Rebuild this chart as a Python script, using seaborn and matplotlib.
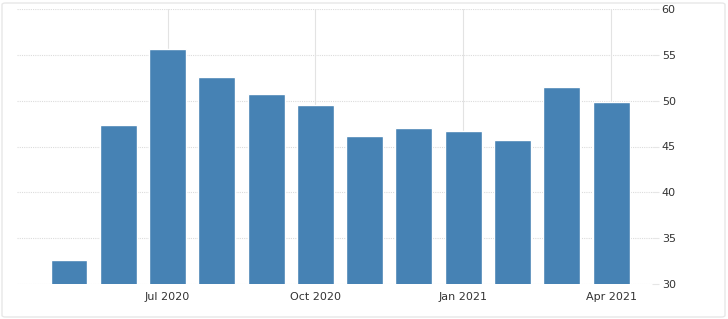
import matplotlib
matplotlib.use("Agg")
import matplotlib.pyplot as plt
import seaborn as sns
import pandas as pd
from matplotlib.patches import FancyBboxPatch

months = ["May 2020", "Jun 2020", "Jul 2020", "Aug 2020", "Sep 2020", "Oct 2020",
          "Nov 2020", "Dec 2020", "Jan 2021", "Feb 2021", "Mar 2021", "Apr 2021"]
values = [32.6, 47.3, 55.6, 52.6, 50.7, 49.5, 46.1, 47.0, 46.7, 45.7, 51.5, 49.9]
tick_months = ["Jul 2020", "Oct 2020", "Jan 2021", "Apr 2021"]
y_ticks = [30, 35, 40, 45, 50, 55, 60]

df = pd.DataFrame({"month": months, "value": values})

sns.set_style("white")
W, H = 728, 319
fig = plt.figure(figsize=(W / 100, H / 100), dpi=100)
left, right, top, bottom = 17, 652, 9, 284
ax = fig.add_axes([left / W, 1 - bottom / H, (right - left) / W, (bottom - top) / H])

sns.barplot(data=df, x="month", y="value", order=months, color="#4682B4",
            saturation=1, width=0.75, ax=ax, zorder=3)

ax.set_ylim(30, 60)
ax.set_xlim(-1.055, 11.83)
ax.set_yticks(y_ticks)
ax.set_yticklabels([str(v) for v in y_ticks])
ax.yaxis.tick_right()
pos = [months.index(m) for m in tick_months]
ax.set_xticks(pos)
ax.set_xticklabels(tick_months)
ax.set_xlabel("")
ax.set_ylabel("")

for s in ax.spines.values():
    s.set_visible(False)

ax.tick_params(axis="y", length=5, color="#e6e6e6", labelsize=8, labelcolor="#333333", pad=2)
ax.tick_params(axis="x", length=0, labelsize=8, labelcolor="#333333", pad=6)

for y in y_ticks:
    ax.axhline(y, color="#dcdcdc", lw=0.8, ls=(0, (1, 1)), zorder=1)
for p in pos:
    ax.axvline(p, color="#e3e3e3", lw=0.8, zorder=1)

fig.patches.append(FancyBboxPatch((2 / W, 2 / H), 1 - 5 / W, 1 - 5 / H,
                                  boxstyle="round,pad=0,rounding_size=0.005",
                                  transform=fig.transFigure, fill=False,
                                  edgecolor="#e8e8e8", lw=1))

fig.savefig("out.png", dpi=100)
